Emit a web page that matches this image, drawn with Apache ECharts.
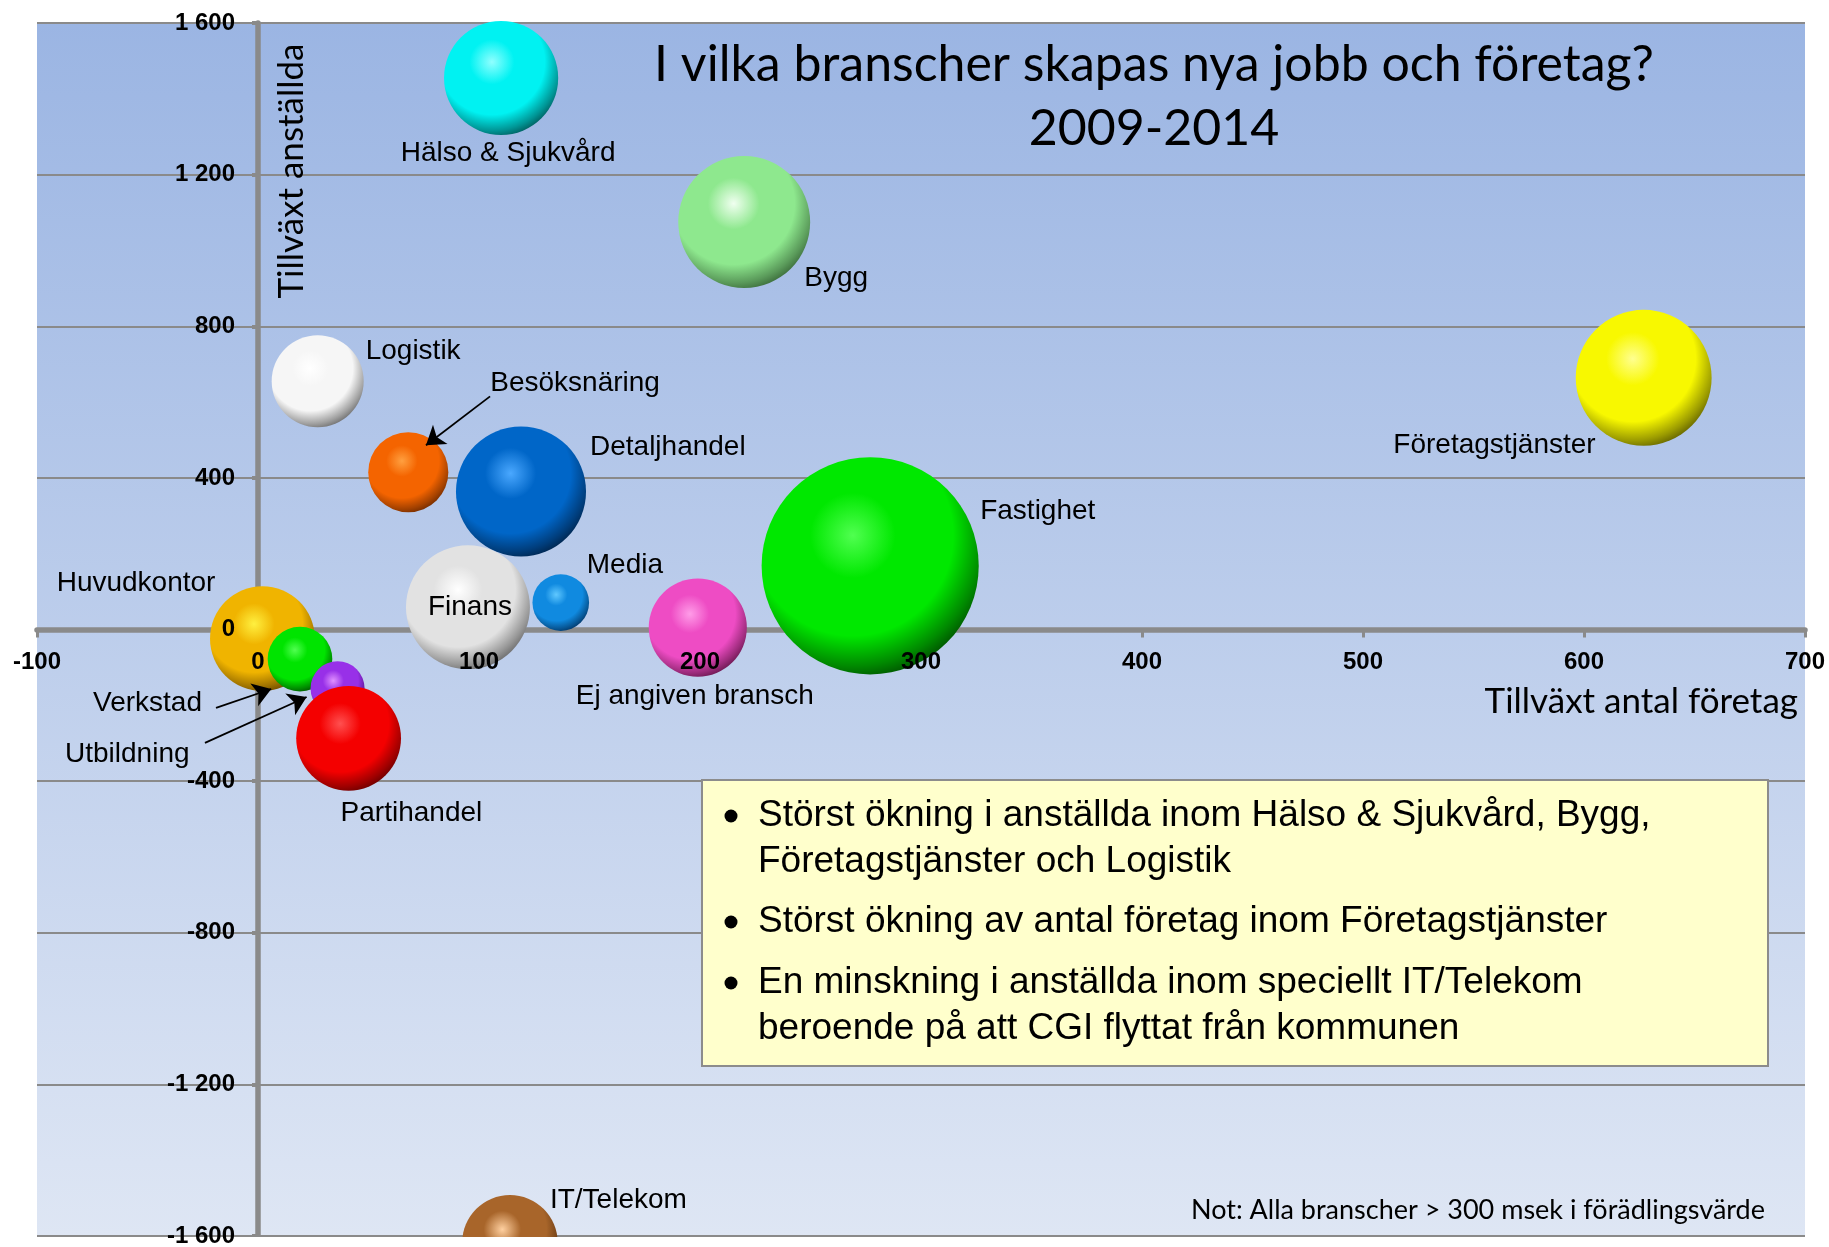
<!DOCTYPE html>
<html>
<head>
<meta charset="utf-8">
<script src="https://cdn.jsdelivr.net/npm/echarts@6/dist/echarts.min.js"></script>
<style>
  html, body { margin: 0; padding: 0; background: #fff; }
  #chart { width: 1829px; height: 1247px; }
</style>
</head>
<body>
<div id="chart"></div>
<script>
// branscher och värden
const branscher = ['Hälso & Sjukvård', 'Bygg', 'Företagstjänster', 'Logistik', 'Besöksnäring',
    'Detaljhandel', 'Finans', 'Media', 'Ej angiven bransch', 'Fastighet',
    'Huvudkontor', 'Verkstad', 'Utbildning', 'Partihandel', 'IT/Telekom'];
const tillvaxtForetag = [110, 220, 627, 27, 68, 119, 95, 137, 199, 277, 2, 19, 36, 41, 114];
const tillvaxtAnstallda = [1455, 1075, 664, 655, 415, 364, 59, 71, 5, 168, -24, -78, -155, -287, -1618];
// bubbelstorlek (relativ, uppskattad ur bubblornas yta)
const bubbelStorlek = [1340, 1790, 1900, 870, 660, 1740, 1580, 330, 990, 4850, 1130, 430, 300, 1130, 940];

// axlar
const xMin = -100, xMax = 700, xStep = 100;
const yMin = -1600, yMax = 1600, yStep = 400;

// pilar till etiketterna (i datakoordinater): [från, till]
const pilar = [
    [[105, 615], [76, 486]],     // Besöksnäring
    [[-19, -207], [6, -157]],    // Verkstad
    [[-24, -299], [22, -178]]    // Utbildning
];

const punktText = [
    ['Störst ökning i anställda inom Hälso & Sjukvård, Bygg,', 'Företagstjänster och Logistik'],
    ['Störst ökning av antal företag inom Företagstjänster'],
    ['En minskning i anställda inom speciellt IT/Telekom', 'beroende på att CGI flyttat från kommunen']
];

// färger: ljus, bas, mörk
const farger = {
    'Hälso & Sjukvård': ['#90ffff', '#00f2f2', '#004848'],
    'Bygg': ['#f0fff0', '#8ee88e', '#2f5a2f'],
    'Företagstjänster': ['#ffff90', '#f8f800', '#4e4e00'],
    'Logistik': ['#ffffff', '#f6f6f6', '#5c5c5c'],
    'Besöksnäring': ['#ffa040', '#f46400', '#602400'],
    'Detaljhandel': ['#4aa8ff', '#0066c8', '#001c3c'],
    'Finans': ['#ffffff', '#e2e2e2', '#5a5a5a'],
    'Media': ['#60c8ff', '#108ae0', '#002c58'],
    'Ej angiven bransch': ['#ff9ce8', '#ee4cc4', '#581040'],
    'Fastighet': ['#50ff50', '#00e800', '#003c00'],
    'Huvudkontor': ['#fff040', '#f0b400', '#5a3c00'],
    'Verkstad': ['#50ff50', '#00e400', '#004000'],
    'Utbildning': ['#e090ff', '#9830e8', '#380a60'],
    'Partihandel': ['#ff5050', '#f40000', '#580000'],
    'IT/Telekom': ['#ffd0a0', '#a8652a', '#3a1c04']
};

// etikettplacering relativt bubblans mitt
const etiketter = {
    'Hälso & Sjukvård': [7, 75, 'center'],
    'Bygg': [60, 56, 'left'],
    'Företagstjänster': [-48, 67, 'right'],
    'Logistik': [48, -30, 'left'],
    'Besöksnäring': [82, -89, 'left'],
    'Detaljhandel': [69, -44, 'left'],
    'Finans': [2, 0, 'center'],
    'Media': [26, -37, 'left'],
    'Ej angiven bransch': [-3, 69, 'center'],
    'Fastighet': [110, -55, 'left'],
    'Huvudkontor': [-47, -55, 'right'],
    'Verkstad': [-98, 44, 'right'],
    'Utbildning': [-148, 66, 'right'],
    'Partihandel': [-8, 75, 'left'],
    'IT/Telekom': [40, -43, 'left']
};

function blanda(a, b, t) {
    let pa = parseInt(a.slice(1), 16), pb = parseInt(b.slice(1), 16);
    let r = Math.round(((pa >> 16) & 255) * (1 - t) + ((pb >> 16) & 255) * t);
    let g = Math.round(((pa >> 8) & 255) * (1 - t) + ((pb >> 8) & 255) * t);
    let bl = Math.round((pa & 255) * (1 - t) + (pb & 255) * t);
    return 'rgb(' + r + ',' + g + ',' + bl + ')';
}

function sfar(c) {
    return {
        type: 'radial', x: 0.42, y: 0.36, r: 0.7,
        colorStops: [
            {offset: 0, color: c[0]},
            {offset: 0.28, color: c[1]},
            {offset: 0.66, color: c[1]},
            {offset: 0.86, color: blanda(c[1], c[2], 0.55)},
            {offset: 1, color: c[2]}
        ]
    };
}

function tusental(v) {
    let a = Math.abs(v);
    let s = a >= 1000 ? Math.floor(a / 1000) + ' ' + String(a % 1000).padStart(3, '0') : String(a);
    return (v < 0 ? '-' : '') + s;
}

// rutnätet (pixlar)
const gridBox = {left: 37, right: 24, top: 23, bottom: 11};
const gridW = 1829 - gridBox.left - gridBox.right;
const gridH = 1247 - gridBox.top - gridBox.bottom;
// flytta etikettaxlarna till nollan
const xEtikettOffset = -gridH * (0 - yMin) / (yMax - yMin);
const yEtikettOffset = -gridW * (0 - xMin) / (xMax - xMin);

let myChart = echarts.init(document.getElementById('chart'));

let data = branscher.map(function (n, i) {
    let e = etiketter[n];
    return {
        name: n,
        value: [tillvaxtForetag[i], tillvaxtAnstallda[i], bubbelStorlek[i]],
        itemStyle: {color: sfar(farger[n]), opacity: 1},
        label: {offset: [e[0], e[1]], align: e[2]}
    };
});

const grå = '#8a8a8a';
const etikettFont = {fontFamily: 'Liberation Sans, Arial, sans-serif', fontWeight: 'bold', fontSize: 24, color: '#000'};

let rader = [];
let yPos = [816, 922, 983];
punktText.forEach(function (p, i) {
    rader.push({type: 'circle', shape: {cx: 731, cy: yPos[i], r: 6.5}, style: {fill: '#000'}, z: 11});
    p.forEach(function (t, j) {
        rader.push({
            type: 'text', z: 11,
            style: {text: t, x: 758, y: yPos[i] + j * 45.5, verticalAlign: 'middle',
                font: '37px "Liberation Sans", Arial, sans-serif', fill: '#000'}
        });
    });
});

let option = {
    animation: false,
    title: {
        text: 'I vilka branscher skapas nya jobb och företag?\n2009-2014',
        left: 1149,
        top: 28,
        textAlign: 'center',
        textStyle: {fontFamily: 'Lato, sans-serif', fontWeight: 'normal', fontSize: 50, lineHeight: 64, color: '#000'}
    },
    grid: {
        left: gridBox.left, right: gridBox.right, top: gridBox.top, bottom: gridBox.bottom,
        show: true, borderWidth: 0,
        outerBoundsMode: 'none',
        backgroundColor: {
            type: 'linear', x: 0, y: 0, x2: 0, y2: 1,
            colorStops: [{offset: 0, color: '#9bb5e3'}, {offset: 1, color: '#dee6f4'}]
        }
    },
    xAxis: [
        {
            type: 'value', min: xMin, max: xMax, interval: xStep, position: 'bottom', z: 0,
            axisLine: {show: true, onZero: true, lineStyle: {color: grå, width: 5.5}},
            axisTick: {show: true, length: 8, lineStyle: {color: grå, width: 3}},
            axisLabel: {show: false},
            splitLine: {show: false}
        },
        {
            type: 'value', min: xMin, max: xMax, interval: xStep, position: 'bottom', z: 4,
            offset: xEtikettOffset,
            axisLine: {show: false, onZero: false},
            axisTick: {show: false},
            axisLabel: Object.assign({margin: 21}, etikettFont),
            splitLine: {show: false}
        }
    ],
    yAxis: [
        {
            type: 'value', min: yMin, max: yMax, interval: yStep, position: 'left', z: 0,
            axisLine: {show: true, onZero: true, lineStyle: {color: grå, width: 5.5}},
            axisTick: {show: true, length: 6, lineStyle: {color: grå, width: 4}},
            axisLabel: {show: false},
            splitLine: {show: true, lineStyle: {color: grå, width: 2}}
        },
        {
            type: 'value', min: yMin, max: yMax, interval: yStep, position: 'left', z: 4,
            offset: yEtikettOffset,
            axisLine: {show: false, onZero: false},
            axisTick: {show: false},
            axisLabel: Object.assign({margin: 23, formatter: tusental}, etikettFont),
            splitLine: {show: false}
        }
    ],
    series: [
        {
            name: 'branscher',
            type: 'scatter',
            xAxisIndex: 0,
            yAxisIndex: 0,
            z: 2,
            clip: false,
            data: data,
            symbolSize: function (val) {
                return 3.118 * Math.sqrt(val[2]);
            },
            emphasis: {disabled: true},
            label: {
                show: true,
                position: 'inside',
                formatter: '{b}',
                fontFamily: 'Liberation Sans, Arial, sans-serif',
                fontSize: 28,
                color: '#000'
            },
            markLine: {
                silent: true,
                symbol: ['none', 'arrow'],
                symbolSize: 18,
                label: {show: false},
                lineStyle: {type: 'solid', color: '#000', width: 1.8},
                data: pilar.map(function (p) {
                    return [{coord: p[0], symbol: 'none'}, {coord: p[1], symbol: 'arrow', symbolSize: 18}];
                })
            }
        }
    ],
    graphic: [
        // vit remsa under diagrammet (klipper IT/Telekom)
        {type: 'rect', z: 3, shape: {x: 0, y: 1237, width: 1829, height: 12}, style: {fill: '#fff'}},
        {
            type: 'text', z: 5, x: 292, y: 171, rotation: Math.PI / 2,
            style: {text: 'Tillväxt anställda', align: 'center', verticalAlign: 'middle',
                font: '35px Lato, sans-serif', fill: '#000'}
        },
        {
            type: 'text', z: 5,
            style: {text: 'Tillväxt antal företag', x: 1798, y: 702, align: 'right', verticalAlign: 'middle',
                font: '35px Lato, sans-serif', fill: '#000'}
        },
        {
            type: 'text', z: 5,
            style: {text: 'Not: Alla branscher > 300 msek i förädlingsvärde', x: 1765, y: 1210,
                align: 'right', verticalAlign: 'middle', font: '27px Lato, sans-serif', fill: '#000'}
        },
        {
            type: 'group', z: 10,
            children: [
                {type: 'rect', z: 10, shape: {x: 702, y: 780, width: 1066, height: 286},
                    style: {fill: '#ffffcc', stroke: '#8c8c8c', lineWidth: 2}}
            ].concat(rader)
        }
    ]
};

myChart.setOption(option);
</script>
</body>
</html>
